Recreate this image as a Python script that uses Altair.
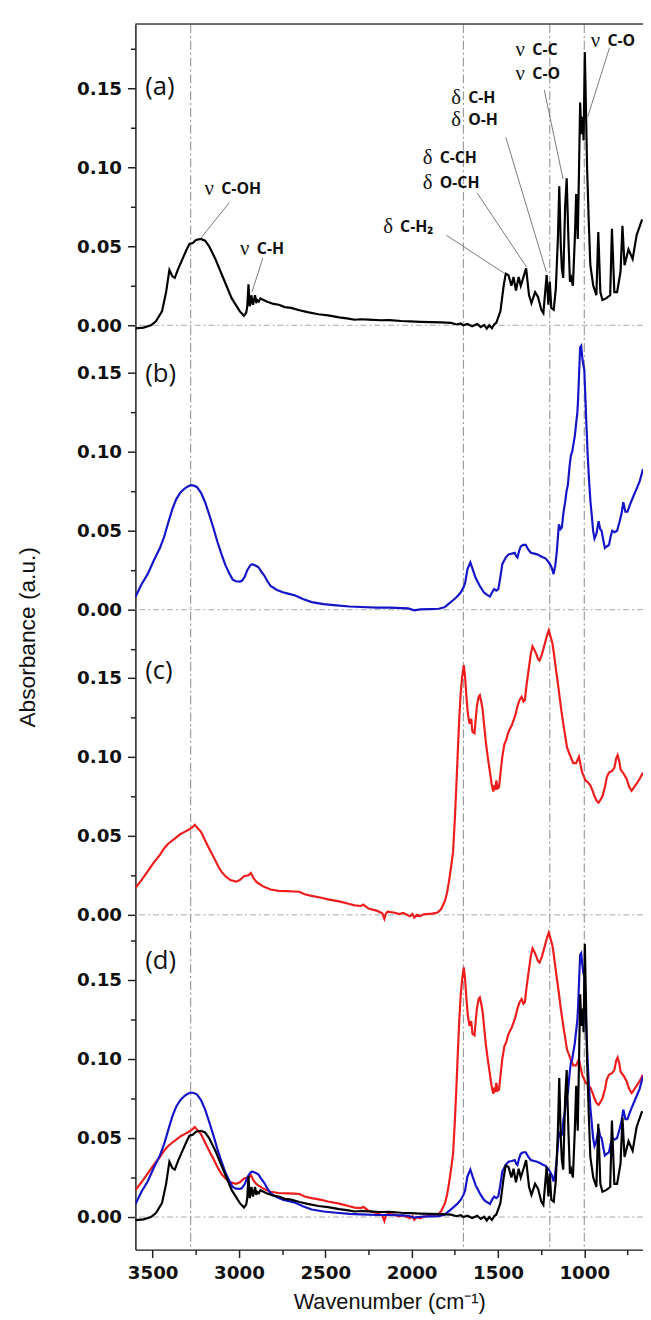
import altair as alt
import pandas as pd

# ---------------- spectrum (a) : black ----------------
a_wn = [3600, 3553, 3510, 3481, 3446, 3422, 3410, 3403, 3386, 3372, 3351, 3327, 3303, 3287, 3268, 3249,
        3220, 3196, 3173, 3137, 3090, 3042, 2995, 2971, 2958, 2952, 2945, 2938, 2932, 2928, 2919, 2907,
        2900, 2895, 2885, 2876, 2840, 2800, 2769, 2735, 2698, 2650, 2603, 2540, 2484, 2420, 2366, 2330,
        2295, 2250, 2180, 2128, 2060, 2009, 1950, 1890, 1830, 1772, 1740, 1715, 1700, 1677, 1650, 1620,
        1600, 1580, 1565, 1550, 1535, 1520, 1510, 1486, 1467, 1455, 1439, 1422, 1410, 1396, 1380, 1368,
        1349, 1337, 1320, 1306, 1285, 1268, 1249, 1237, 1225, 1218, 1208, 1200, 1191, 1177, 1165, 1153,
        1145, 1136, 1130, 1122, 1111, 1102, 1092, 1083, 1076, 1066, 1055, 1047, 1038, 1031, 1024, 1017,
        1009, 1004, 997, 990, 984, 974, 965, 948, 930, 919, 907, 895, 874, 850, 840, 826, 810, 790, 779,
        767, 744, 720, 697, 665]
a_abs = [-0.002, -0.0015, 0.0, 0.0025, 0.0088, 0.021, 0.030, 0.035, 0.031, 0.030, 0.036, 0.042, 0.048,
         0.0515, 0.052, 0.054, 0.0546, 0.0535, 0.050, 0.042, 0.0296, 0.017, 0.0088, 0.006, 0.008, 0.012,
         0.026, 0.012, 0.015, 0.019, 0.013, 0.019, 0.014, 0.016, 0.015, 0.017, 0.015, 0.0135, 0.013,
         0.0115, 0.011, 0.0095, 0.0083, 0.007, 0.0063, 0.005, 0.0042, 0.0035, 0.0038, 0.0036, 0.0032,
         0.0033, 0.0027, 0.0025, 0.0022, 0.002, 0.0018, 0.0015, 0.0005, 0.0012, 0.0, 0.0008, -0.0006,
         0.0008, -0.0012, 0.0002, -0.0022, 0.0, -0.0018, 0.0008, 0.0015, 0.0088, 0.025, 0.0327, 0.0317,
         0.025, 0.0306, 0.022, 0.0306, 0.025, 0.0317, 0.036, 0.019, 0.014, 0.021, 0.018, 0.0098, 0.0077,
         0.023, 0.0317, 0.013, 0.0275, 0.011, 0.0098, 0.023, 0.0546, 0.088, 0.050, 0.036, 0.030, 0.075,
         0.093, 0.0546, 0.0275, 0.030, 0.025, 0.0546, 0.083, 0.0546, 0.096, 0.141, 0.121, 0.132, 0.117,
         0.173, 0.135, 0.100, 0.065, 0.038, 0.025, 0.019, 0.059, 0.021, 0.016, 0.017, 0.019, 0.061, 0.021,
         0.021, 0.034, 0.063, 0.038, 0.048, 0.042, 0.057, 0.067]

# ---------------- spectrum (b) : blue ----------------
b_wn = [3600, 3565, 3529, 3494, 3458, 3434, 3410, 3385, 3363, 3340, 3315, 3296, 3280, 3262, 3244, 3220,
        3196, 3172, 3149, 3125, 3101, 3078, 3054, 3036, 3018, 2995, 2983, 2966, 2952, 2935, 2924, 2905,
        2888, 2870, 2853, 2835, 2817, 2780, 2746, 2710, 2674, 2630, 2579, 2510, 2436, 2360, 2294, 2200,
        2128, 2060, 2020, 1985, 1950, 1900, 1843, 1810, 1784, 1760, 1736, 1715, 1700, 1690, 1677, 1660,
        1645, 1629, 1605, 1582, 1565, 1546, 1534, 1522, 1510, 1498, 1487, 1475, 1455, 1439, 1420, 1403,
        1395, 1387, 1378, 1368, 1354, 1339, 1324, 1309, 1290, 1273, 1255, 1237, 1225, 1213, 1200, 1189,
        1178, 1168, 1159, 1150, 1147, 1138, 1130, 1120, 1111, 1103, 1095, 1086, 1078, 1070, 1064, 1055,
        1047, 1040, 1036, 1030, 1024, 1018, 1012, 1006, 1000, 994, 988, 980, 972, 964, 957, 949, 941, 930,
        917, 908, 900, 890, 881, 870, 857, 848, 838, 825, 810, 795, 784, 774, 762, 750, 730, 703, 680, 660]
b_abs = [0.008, 0.016, 0.0225, 0.031, 0.039, 0.046, 0.055, 0.064, 0.070, 0.074, 0.0767, 0.078, 0.0788,
         0.0785, 0.0777, 0.074, 0.068, 0.060, 0.052, 0.043, 0.035, 0.028, 0.0225, 0.019, 0.018, 0.0178,
         0.0183, 0.021, 0.025, 0.028, 0.0288, 0.028, 0.027, 0.024, 0.0215, 0.018, 0.015, 0.0125, 0.011,
         0.010, 0.009, 0.0068, 0.0048, 0.0035, 0.0027, 0.002, 0.0017, 0.0013, 0.0013, 0.001, 0.0008,
         -0.0004, 0.0002, 0.0004, 0.0006, 0.0015, 0.0038, 0.006, 0.0083, 0.011, 0.014, 0.017, 0.0256,
         0.030, 0.025, 0.020, 0.015, 0.011, 0.0095, 0.0083, 0.011, 0.013, 0.012, 0.013, 0.020, 0.0288,
         0.033, 0.035, 0.0355, 0.036, 0.034, 0.033, 0.037, 0.040, 0.041, 0.041, 0.038, 0.036, 0.0355,
         0.035, 0.034, 0.033, 0.0325, 0.031, 0.029, 0.0267, 0.0225, 0.028, 0.037, 0.050, 0.054, 0.051,
         0.052, 0.062, 0.068, 0.075, 0.079, 0.090, 0.0975, 0.100, 0.104, 0.110, 0.118, 0.125, 0.133, 0.150,
         0.166, 0.167, 0.160, 0.155, 0.152, 0.135, 0.118, 0.097, 0.081, 0.068, 0.060, 0.050, 0.045, 0.048,
         0.056, 0.051, 0.050, 0.044, 0.039, 0.040, 0.041, 0.046, 0.050, 0.049, 0.050, 0.056, 0.061, 0.068,
         0.062, 0.062, 0.068, 0.075, 0.081, 0.089]

# ---------------- spectrum (c) : red ----------------
c_wn = [3600, 3565, 3529, 3494, 3458, 3434, 3410, 3387, 3363, 3340, 3315, 3290, 3270, 3256, 3240, 3220,
        3196, 3173, 3149, 3125, 3100, 3078, 3050, 3018, 2995, 2971, 2945, 2931, 2915, 2900, 2888, 2860,
        2817, 2770, 2722, 2680, 2650, 2620, 2579, 2530, 2484, 2420, 2366, 2330, 2294, 2280, 2250, 2199,
        2170, 2158, 2150, 2140, 2104, 2070, 2050, 2033, 2010, 1995, 1985, 1970, 1950, 1930, 1914, 1880,
        1850, 1830, 1807, 1795, 1784, 1772, 1760, 1750, 1741, 1732, 1724, 1716, 1708, 1698, 1690, 1684,
        1675, 1665, 1655, 1648, 1636, 1628, 1622, 1612, 1605, 1597, 1589, 1580, 1570, 1558, 1546, 1537,
        1527, 1520, 1515, 1510, 1502, 1494, 1485, 1475, 1463, 1451, 1442, 1434, 1420, 1410, 1398, 1387,
        1375, 1363, 1352, 1344, 1335, 1320, 1310, 1300, 1290, 1278, 1268, 1259, 1245, 1230, 1218, 1206,
        1195, 1185, 1178, 1165, 1150, 1135, 1119, 1100, 1083, 1064, 1047, 1031, 1020, 1012, 1000, 993,
        980, 965, 950, 941, 928, 917, 905, 895, 880, 870, 857, 840, 826, 815, 807, 797, 790, 783, 770, 755,
        740, 726, 710, 697, 680, 660]
c_abs = [0.017, 0.022, 0.0275, 0.033, 0.038, 0.042, 0.045, 0.047, 0.049, 0.051, 0.0525, 0.054, 0.0555,
         0.057, 0.055, 0.0525, 0.047, 0.042, 0.037, 0.0317, 0.027, 0.0244, 0.022, 0.021, 0.022, 0.0244,
         0.025, 0.0265, 0.023, 0.021, 0.020, 0.018, 0.016, 0.0152, 0.015, 0.0148, 0.0146, 0.013, 0.012,
         0.011, 0.0098, 0.0085, 0.007, 0.006, 0.0056, 0.0065, 0.004, 0.0025, 0.001, -0.0025, 0.0005,
         0.002, 0.0015, 0.0005, 0.0012, 0.0004, -0.0008, 0.0005, -0.0018, 0.0, -0.0008, 0.0003, 0.0005,
         0.0008, 0.0015, 0.0035, 0.0088, 0.014, 0.021, 0.030, 0.040, 0.060, 0.0817, 0.105, 0.125, 0.140,
         0.150, 0.158, 0.150, 0.140, 0.128, 0.121, 0.124, 0.116, 0.115, 0.125, 0.132, 0.138, 0.139, 0.135,
         0.130, 0.120, 0.109, 0.099, 0.090, 0.083, 0.078, 0.082, 0.079, 0.085, 0.080, 0.0806, 0.090, 0.100,
         0.108, 0.111, 0.115, 0.117, 0.120, 0.123, 0.127, 0.132, 0.136, 0.138, 0.135, 0.136, 0.145, 0.157,
         0.165, 0.170, 0.168, 0.165, 0.162, 0.161, 0.165, 0.171, 0.176, 0.180, 0.176, 0.172, 0.167, 0.156,
         0.144, 0.131, 0.119, 0.106, 0.101, 0.096, 0.096, 0.100, 0.094, 0.090, 0.087, 0.085, 0.084, 0.082,
         0.078, 0.075, 0.072, 0.071, 0.073, 0.075, 0.081, 0.087, 0.090, 0.091, 0.093, 0.099, 0.101, 0.097,
         0.092, 0.091, 0.089, 0.086, 0.081, 0.0785, 0.081, 0.083, 0.086, 0.090]

# ---------------- panels, ticks, reference lines ----------------
panels = ["a", "b", "c", "d"]
panel_labels = ["(a)", "(b)", "(c)", "(d)"]
panel_zero = [0.564375, 0.384375, 0.19125, 0.0]     # stacking offset of each panel's 0.00
panel_label_v = [0.151, 0.149, 0.154, 0.162]
major_steps = [0.0, 0.05, 0.10, 0.15]
minor_steps = {"a": [0.025, 0.075, 0.125, 0.175], "b": [-0.025, 0.025, 0.075, 0.125],
               "c": [0.025, 0.075, 0.125], "d": [0.025, 0.075, 0.125, 0.175]}
x_major = [3500, 3000, 2500, 2000, 1500, 1000]
x_minor = [3250, 2750, 2250, 1750, 1250, 750]
ref_wn = [3280, 1700, 1200, 1000]

# ---------------- band annotations of panel (a) ----------------
ann_wn = [3200, 2994, 2164, 1935, 1935, 1770, 1770, 1398, 1398, 963]
ann_v = [0.0863, 0.048, 0.0619, 0.1056, 0.090, 0.144, 0.130, 0.174, 0.159, 0.180]
ann_sym = ["ν", "ν", "δ", "δ", "δ", "δ", "δ", "ν", "ν", "ν"]
ann_txt = ["C-OH", "C-H", "C-H₂", "C-CH", "O-CH", "C-H", "O-H", "C-C", "C-O", "C-O"]
lead_wn1 = [3057, 2862, 1798, 1621, 1455, 1232, 854]
lead_v1 = [0.0775, 0.0425, 0.0569, 0.0838, 0.119, 0.149, 0.1756]
lead_wn2 = [3222, 2925, 1466, 1335, 1220, 1123, 980]
lead_v2 = [0.055, 0.021, 0.0331, 0.0369, 0.0338, 0.0925, 0.132]

off = dict(zip(panels, panel_zero))


def frame(wn, ab, panel):
    return pd.DataFrame({"wn": wn, "y": [v + off[panel] for v in ab], "panel": panel})


red_df = pd.concat([frame(c_wn, c_abs, "c"), frame(c_wn, c_abs, "d")])
blue_df = pd.concat([frame(b_wn, b_abs, "b"), frame(b_wn, b_abs, "d")])
black_df = pd.concat([frame(a_wn, a_abs, "a"), frame(a_wn, a_abs, "d")])

major_y = [z + s for z in panel_zero for s in major_steps]
minor_y = [off[p] + s for p in panels for s in minor_steps[p]]

label_expr = ("format(datum.value - (datum.value > 0.55 ? %r : datum.value > 0.37 ? %r : "
              "datum.value > 0.18 ? %r : 0) + 0.000001, '.2f')" % (panel_zero[0], panel_zero[1], panel_zero[2]))

W, H = 514, 1241
xs = alt.Scale(domain=[660, 3600], reverse=True, nice=False, zero=False)
ys = alt.Scale(domain=[-0.020625, 0.755], nice=False, zero=False)

TICK_FONT = "DejaVu Sans"
dummy = pd.DataFrame({"wn": [2000], "y": [0.1]})

major_axes = alt.Chart(dummy).mark_point(opacity=0).encode(
    x=alt.X("wn:Q", scale=xs, axis=alt.Axis(
        values=x_major, format="d", orient="bottom", title="Wavenumber (cm⁻¹)",
        labelFont=TICK_FONT, labelFontSize=18.5, labelFontWeight="bold", labelColor="#111",
        labelPadding=6, tickSize=8, tickWidth=1.5, tickColor="#222", domainColor="#222",
        domainWidth=1.5, titleFont="Liberation Sans", titleFontSize=22, titleFontWeight="normal",
        titleColor="#111", titlePadding=10, grid=False, labelFlush=False)),
    y=alt.Y("y:Q", scale=ys, axis=alt.Axis(
        values=major_y, labelExpr=label_expr, orient="left", title="Absorbance (a.u.)",
        labelFont=TICK_FONT, labelFontSize=18.5, labelFontWeight="bold", labelColor="#111",
        labelPadding=6, tickSize=8, tickWidth=1.5, tickColor="#222", domainColor="#222",
        domainWidth=1.5, titleFont="Liberation Sans", titleFontSize=23, titleFontWeight="normal",
        titleColor="#111", titlePadding=38, grid=False, labelFlush=False)),
)

minor_axes = alt.Chart(dummy).mark_point(opacity=0).encode(
    x=alt.X("wn:Q", scale=xs, axis=alt.Axis(
        values=x_minor, orient="bottom", labels=False, domain=False, tickSize=5, tickWidth=1.5,
        tickColor="#222", title=None, grid=False)),
    y=alt.Y("y:Q", scale=ys, axis=alt.Axis(
        values=minor_y, orient="left", labels=False, domain=False, tickSize=5, tickWidth=1.5,
        tickColor="#222", title=None, grid=False)),
)

vlines = alt.Chart(pd.DataFrame({"wn": ref_wn})).mark_rule(
    color="#9c9c9c", strokeWidth=1.2, strokeDash=[9, 3, 2, 3]).encode(
    x=alt.X("wn:Q", scale=xs, axis=None))

hlines = alt.Chart(pd.DataFrame({"y": panel_zero})).mark_rule(
    color="#a8a8a8", strokeWidth=1, strokeDash=[6, 3, 2, 3]).encode(
    y=alt.Y("y:Q", scale=ys, axis=None))


def lines(df, color):
    return alt.Chart(df).mark_line(color=color, strokeWidth=2.2, clip=True).encode(
        x=alt.X("wn:Q", scale=xs, axis=None),
        y=alt.Y("y:Q", scale=ys, axis=None),
        detail="panel:N")


red = lines(red_df, "#ee1c1c")
blue = lines(blue_df, "#1414c8")
black = lines(black_df, "#000000")

ann_df = pd.DataFrame({"wn": ann_wn, "y": [v + off["a"] for v in ann_v], "sym": ann_sym, "txt": ann_txt})
lead_df = pd.DataFrame({"wn": lead_wn1, "y": [v + off["a"] for v in lead_v1],
                        "wn2": lead_wn2, "y2": [v + off["a"] for v in lead_v2]})

leaders = alt.Chart(lead_df).mark_rule(color="#7a7a7a", strokeWidth=1).encode(
    x=alt.X("wn:Q", scale=xs, axis=None), x2="wn2:Q",
    y=alt.Y("y:Q", scale=ys, axis=None), y2="y2:Q")

sym_text = alt.Chart(ann_df).mark_text(
    align="left", baseline="middle", font="Liberation Serif", fontSize=21, color="#111").encode(
    x=alt.X("wn:Q", scale=xs, axis=None), y=alt.Y("y:Q", scale=ys, axis=None), text="sym:N")

bold_text = alt.Chart(ann_df).mark_text(
    align="left", baseline="middle", font="Open Sans", fontSize=16, fontWeight="bold",
    color="#111", dx=17).encode(
    x=alt.X("wn:Q", scale=xs, axis=None), y=alt.Y("y:Q", scale=ys, axis=None), text="txt:N")

plab_df = pd.DataFrame({"wn": [3543] * 4, "y": [v + z for v, z in zip(panel_label_v, panel_zero)],
                        "lab": panel_labels})
plabels = alt.Chart(plab_df).mark_text(
    align="left", baseline="middle", font="Open Sans", fontSize=26, color="#111").encode(
    x=alt.X("wn:Q", scale=xs, axis=None), y=alt.Y("y:Q", scale=ys, axis=None), text="lab:N")

top_border = alt.Chart(dummy).mark_rule(color="#444", strokeWidth=1.5).encode(y=alt.value(0))

chart = alt.layer(
    major_axes, minor_axes, vlines, hlines, red, blue, black, leaders, sym_text, bold_text,
    plabels, top_border
).resolve_axis(x="independent", y="independent").properties(
    width=W, height=H,
    autosize=alt.AutoSizeParams(type="none"),
    padding={"left": 129, "right": 0, "top": 8, "bottom": 64},
).configure_view(stroke=None).configure(background="white")

chart.save("out.html", embed_options={"renderer": "svg", "actions": False})
